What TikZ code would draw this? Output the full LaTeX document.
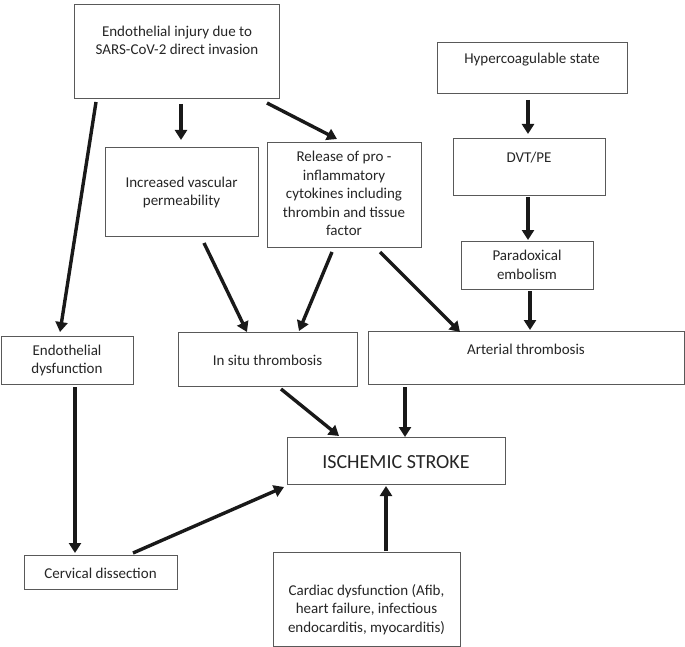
\documentclass[tikz,border=0pt]{standalone}
\usepackage{fontspec}
\setmainfont{Carlito}
\usetikzlibrary{arrows.meta}
\tikzset{
  box/.style={draw=black!65, line width=1pt, anchor=north west, inner sep=0pt, fill=white},
  txt/.style={align=center, inner sep=0pt, text=black!85, font=\fontsize{15}{18.4}\selectfont},
  bigtxt/.style={align=center, inner sep=0pt, text=black!85, font=\fontsize{20}{24}\selectfont},
  arr/.style={line width=3.4pt, black!90, -{Triangle[length=10pt,width=12pt]}}
}
\begin{document}
\begin{tikzpicture}[x=1pt,y=-1pt]
\useasboundingbox (0,0) rectangle (685,647);
% boxes
\node[box, minimum width=205pt, minimum height=94pt] (A) at (74,4) {};
\node[box, minimum width=190pt, minimum height=51pt] (B) at (437,42) {};
\node[box, minimum width=152pt, minimum height=57pt] (C) at (453,138) {};
\node[box, minimum width=132pt, minimum height=48pt] (D) at (461,241) {};
\node[box, minimum width=153pt, minimum height=89pt] (E) at (105,147) {};
\node[box, minimum width=154pt, minimum height=105pt] (F) at (267,142) {};
\node[box, minimum width=132pt, minimum height=48pt] (G) at (1,336) {};
\node[box, minimum width=179pt, minimum height=54pt] (H) at (178,332) {};
\node[box, minimum width=316pt, minimum height=53pt] (I) at (368,331) {};
\node[box, minimum width=218pt, minimum height=47pt] (J) at (287,437) {};
\node[box, minimum width=153pt, minimum height=34pt] (K) at (24,555) {};
\node[box, minimum width=187pt, minimum height=94pt] (L) at (273,552) {};
% texts
\node[txt] (At) at (177,40.5) {Endothelial injury due to\\SARS-CoV-2 direct invasion};
\node[txt] (Bt) at (532,60) {Hypercoagulable state};
\node[txt] (Ct) at (529,158) {DVT/PE};
\node[txt] (Dt) at (527,265) {Paradoxical\\embolism};
\node[txt] (Et) at (181.5,192.5) {Increased vascular\\permeability};
\node[txt] (Ft) at (344,193.5) {Release of pro -\\inflammatory\\cytokines including\\thrombin and tissue\\factor};
\node[txt] (Gt) at (67,360.5) {Endothelial\\dysfunction};
\node[txt] (Ht) at (267.5,360) {In situ thrombosis};
\node[txt] (It) at (526,349) {Arterial thrombosis};
\node[bigtxt] (Jt) at (396,462) {ISCHEMIC STROKE};
\node[txt] (Kt) at (100.5,573) {Cervical dissection};
\node[txt] (Lt) at (366.5,609.5) {Cardiac dysfunction (Afib,\\heart failure, infectious\\endocarditis, myocarditis)};
% arrows
\draw[arr] ([shift={(22,3)}]A.south west) -- ([shift={(59,-4)}]G.north west);
\draw[arr] ([shift={(107,5)}]A.south west) -- ([shift={(76,-7)}]E.north west);
\draw[arr] ([shift={(193,4)}]A.south west) -- ([shift={(70,-3)}]F.north west);
\draw[arr] ([shift={(91,6)}]B.south west) -- ([shift={(75,-4)}]C.north west);
\draw[arr] ([shift={(75,1)}]C.south west) -- ([shift={(67,-1)}]D.north west);
\draw[arr] ([shift={(69,1)}]D.south west) -- ([shift={(162,-1)}]I.north west);
\draw[arr] ([shift={(99,6)}]E.south west) -- ([shift={(69,0)}]H.north west);
\draw[arr] ([shift={(65,4)}]F.south west) -- ([shift={(121,-1)}]H.north west);
\draw[arr] ([shift={(113,4)}]F.south west) -- ([shift={(92,1)}]I.north west);
\draw[arr] ([shift={(103,2)}]H.south west) -- ([shift={(52,-1)}]J.north west);
\draw[arr] ([shift={(37,2)}]I.south west) -- ([shift={(118,0)}]J.north west);
\draw[arr] ([shift={(74,2)}]G.south west) -- ([shift={(51,-2)}]K.north west);
\draw[arr] ([shift={(109,-2)}]K.north west) -- ([shift={(-3,2)}]J.south west);
\draw[arr] ([shift={(113,-1)}]L.north west) -- ([shift={(99,1)}]J.south west);
\end{tikzpicture}
\end{document}
